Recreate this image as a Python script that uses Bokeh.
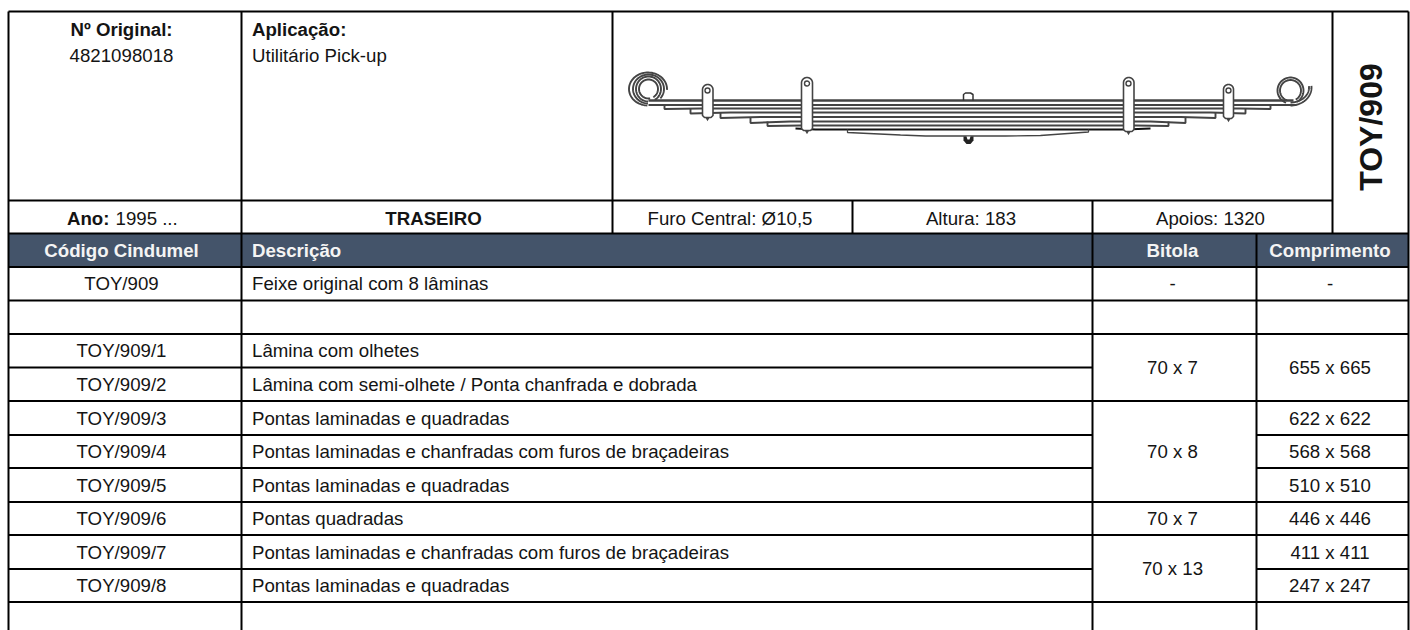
import numpy as np
from bokeh.plotting import figure
from bokeh.core.properties import value
from bokeh.embed import file_html
from bokeh.resources import INLINE

# ---- content ----
original_label = "Nº Original:"
original_number = "4821098018"
application_label = "Aplicação:"
application_value = "Utilitário Pick-up"
year_label = "Ano:"
year_value = "1995 ..."
position_label = "TRASEIRO"
specs = ["Furo Central: Ø10,5", "Altura: 183", "Apoios: 1320"]
code_title = "TOY/909"
headers = ["Código Cindumel", "Descrição", "Bitola", "Comprimento"]
codes = ["TOY/909", "", "TOY/909/1", "TOY/909/2", "TOY/909/3", "TOY/909/4", "TOY/909/5",
         "TOY/909/6", "TOY/909/7", "TOY/909/8"]
descriptions = ["Feixe original com 8 lâminas", "", "Lâmina com olhetes",
                "Lâmina com semi-olhete / Ponta chanfrada e dobrada",
                "Pontas laminadas e quadradas",
                "Pontas laminadas e chanfradas com furos de braçadeiras",
                "Pontas laminadas e quadradas", "Pontas quadradas",
                "Pontas laminadas e chanfradas com furos de braçadeiras",
                "Pontas laminadas e quadradas"]
gauges = ["-", "", "70 x 7", "70 x 8", "70 x 7", "70 x 13"]
lengths = ["-", "", "655 x 665", "622 x 622", "568 x 568", "510 x 510", "446 x 446", "411 x 411", "247 x 247"]

# ---- layout (pixels) ----
X_L, X1, X_IMG, X_A, X2, X3, X_IMG_R, X_R = 8, 241, 612, 852, 1092, 1256, 1332, 1408
Y_T, Y_INFO, Y_HEAD, Y_BODY, Y_B = 11, 200, 233, 266.5, 630
row_y = [266.5, 300, 333.5, 367, 400.5, 434.5, 467.5, 501.5, 534.5, 568.5, 601.5]
gauge_spans = [(0, 0), (1, 1), (2, 3), (4, 6), (7, 7), (8, 9)]
length_spans = [(0, 0), (1, 1), (2, 3), (4, 4), (5, 5), (6, 6), (7, 7), (8, 8), (9, 9)]
X_CODE, X_DESC, X_GAUGE, X_LEN = 121, 251.5, 1172, 1329.5

FONT = value("Liberation Sans")
FS = "18.67px"
INK = "#141414"

p = figure(width=1410, height=630, x_range=(0, 1410), y_range=(630, 0), output_backend="svg",
           toolbar_location=None, x_axis_location=None, y_axis_location=None,
           min_border=0, outline_line_color=None)
p.xgrid.visible = False
p.ygrid.visible = False


def txt(x, y, s, align="center", bold=False, color=INK, size=FS, angle=0):
    p.text([x], [y], text=[s], text_align=align, text_baseline="middle",
           text_font=FONT, text_font_size=size, text_color=color, angle=angle,
           text_font_style="bold" if bold else "normal")


# ---- header band ----
p.quad(left=[X_L], right=[X_R], top=[Y_HEAD], bottom=[Y_BODY], fill_color="#44546a", line_color=None)

# ---- grid ----
seg = []
for x, a, b in [(X_L, Y_T, Y_B), (X1, Y_T, Y_B), (X2, Y_INFO, Y_B), (X3, Y_HEAD, Y_B), (X_R, Y_T, Y_B),
                (X_IMG, Y_T, Y_HEAD), (X_A, Y_INFO, Y_HEAD), (X_IMG_R, Y_T, Y_HEAD)]:
    seg.append((x, a, x, b))
seg.append((X_L, Y_T, X_R, Y_T))
seg.append((X_L, Y_INFO, X_IMG_R, Y_INFO))
seg.append((X_L, Y_HEAD, X_R, Y_HEAD))
for y in row_y:
    seg.append((X_L, y, X2, y))
for first, last in gauge_spans:
    seg.append((X2, row_y[last + 1], X3, row_y[last + 1]))
for first, last in length_spans:
    seg.append((X3, row_y[last + 1], X_R, row_y[last + 1]))
seg.append((X2, row_y[0], X_R, row_y[0]))
s = np.array(seg, dtype=float)
p.segment(s[:, 0], s[:, 1], s[:, 2], s[:, 3], line_color="black", line_width=2)

# ---- top block ----
txt(X_CODE, 29, original_label, bold=True)
txt(X_CODE, 55, original_number)
txt(X_DESC, 29, application_label, "left", True)
txt(X_DESC, 55, application_value, "left")
txt(66.5, 217.5, year_label, "left", True)
txt(115, 217.5, year_value, "left")
txt(433, 217.5, position_label, bold=True)
txt(729.5, 217.5, specs[0])
txt(970.5, 217.5, specs[1])
txt(1210, 217.5, specs[2])
txt(1370, 126.5, code_title, bold=True, size="32px", angle=np.pi / 2)

# ---- table ----
for x, s_, a in [(X_CODE, headers[0], "center"), (X_DESC, headers[1], "left"), (X_GAUGE, headers[2], "center"), (X_LEN, headers[3], "center")]:
    txt(x, 250, s_, a, True, color="#f4f4f4")
for i, c in enumerate(codes):
    cy = (row_y[i] + row_y[i + 1]) / 2
    if c:
        txt(X_CODE, cy, c)
    if descriptions[i]:
        txt(X_DESC, cy, descriptions[i], "left")
for (first, last), g in zip(gauge_spans, gauges):
    if g:
        txt(X_GAUGE, (row_y[first] + row_y[last + 1]) / 2, g)
for (first, last), l in zip(length_spans, lengths):
    if l:
        txt(X_LEN, (row_y[first] + row_y[last + 1]) / 2, l)

# ---- leaf spring drawing ----
GREY = "#444444"
leaf_x = [[648, 1293], [648, 1296],
          [664, 664, 700, 1240, 1270, 1270],
          [690, 690, 730, 1210, 1245, 1245],
          [720, 720, 760, 1180, 1215, 1215],
          [750, 750, 790, 1150, 1185, 1185],
          [767, 767, 800, 1135, 1168, 1168],
          [795, 815, 1125, 1150],
          [847, 847, 900, 925, 1005, 1040, 1088, 1088]]
leaf_y = [[100, 100], [104.5, 104.5],
          [105, 108.5, 108, 108, 108.5, 105],
          [108, 113, 112, 112, 113, 108],
          [112, 117.5, 116.5, 116.5, 117.5, 112],
          [117, 122.5, 121, 121, 122.5, 117],
          [121, 125.5, 125, 125, 125.5, 121],
          [128, 129, 129, 128],
          [129, 132, 134.5, 135.5, 135.5, 135, 131.5, 129]]
leaf_w = [2.4, 1.9, 1.9, 1.9, 1.9, 1.9, 1.9, 1.8, 1.3]
leaf_c = [GREY, GREY, GREY, GREY, GREY, GREY, GREY, "#111111", GREY]
p.multi_line(leaf_x, leaf_y, line_color=leaf_c, line_width=leaf_w)


def arc(cx, cy, rx, ry, a0, a1):
    t = np.radians(np.linspace(a0, a1, 60))
    return cx + rx * np.cos(t), cy - ry * np.sin(t)


# eyes (angles counter-clockwise from east, screen sense)
eyes = [(647.5, 88.5, 19, 16.5, -3, 268),
        (648, 88.5, 15.5, 14.5, -40, 268),
        (648, 88.5, 12.5, 12.5, -60, 268),
        (648, 88.5, 9.5, 9.5, -60, 280),
        (1290, 90, 13, 13, -60, 250),
        (1290, 90, 10.5, 10.5, -60, 250),
        (1290, 87, 21, 18, -90, 5),
        (1290, 87, 18.5, 15, -90, 5)]
for cx, cy, rx, ry, a0, a1 in eyes:
    ax, ay = arc(cx, cy, rx, ry, a0, a1)
    p.line(ax, ay, line_color=GREY, line_width=1.9)

# clamps: left, right, top, bottom, eye x, eye y
clamps = [(702, 712.5, 84, 117, 707, 90), (801, 812, 77, 130, 806.5, 83),
          (1123, 1133.5, 77, 131, 1128, 83), (1223, 1233, 84, 118, 1228, 90)]
for l, r, t, b, ex, ey in clamps:
    ax, ay = arc((l + r) / 2, t + (r - l) / 2, (r - l) / 2, (r - l) / 2, 0, 180)
    xs = [r] + list(ax) + [l, l + 2, r - 2, r]
    ys = [b - 2] + list(ay) + [b - 2, b, b, b - 2]
    p.patch(xs, ys, fill_color="white", line_color=GREY, line_width=1.6)
    p.scatter([ex], [ey], marker="circle", size=5, fill_color="white", line_color=GREY, line_width=1.4)
    p.scatter([ex], [b + 1.5], marker="inverted_triangle", size=4, fill_color=GREY, line_color=None)

# centre bolt
p.line([963, 963, 965, 970, 972.5, 972.5], [100, 94, 92.5, 92.5, 94, 100], line_color="#333333", line_width=1.5)
p.patch([963, 973, 973, 970, 966, 963], [136, 136, 140, 143.5, 143.5, 140], fill_color="#222222", line_color=None)
p.patch([966, 970, 969, 967], [136, 136, 139, 139], fill_color="white", line_color=None)

open("out.html", "w").write(file_html(p, INLINE))
